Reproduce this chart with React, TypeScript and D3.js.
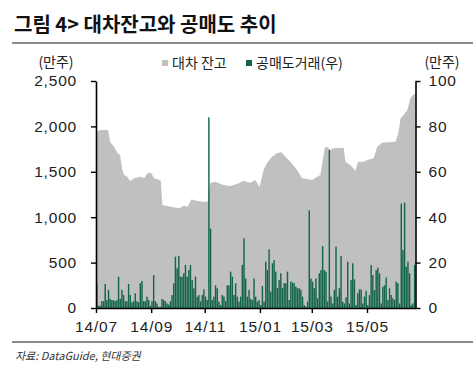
import React, { useEffect, useRef } from 'react';
import * as d3 from 'd3';

// 공매도거래 (만주, right axis) - one bar per slot, read left to right
const shortVals = [
  10.9, 1, 1, 3, 3, 10.6, 3.5, 8, 4, 3.5,
  3.5, 3, 3.5, 13.8, 4, 8, 5.7, 3, 3, 10.6,
  5.7, 2.5, 3, 6.5, 3, 2.5, 10.9, 11.9, 3, 3,
  5, 3.5, 1, 3, 14.5, 3, 2, 0.5, 0.5, 4,
  3.5, 3, 2, 1.5, 3, 5.7, 10.9, 22.6,
  17.5, 22.9, 13.8, 13.8, 15.3, 19, 13.8, 16.7, 19, 12.3,
  8.7, 13.8, 5, 5.7, 2.9, 5.7, 8.2, 5, 3.5, 84,
  35, 3.5, 5, 10, 8.7, 2.8, 1.3, 5.7, 5, 3,
  10, 10, 16, 13.8, 5.7, 10.9, 5, 2.8, 5, 19,
  30.7, 13, 5, 8, 4, 3.5, 13, 5, 2.8,
  3.5, 1.3, 9.7, 2.8, 20.4, 16.7, 25.8, 7.2, 19.7, 21.1,
  16, 8.7, 12.3, 15.3, 8.7, 10.9, 10.9, 16, 3.5, 11.6,
  11.2, 10.9, 9.4, 8.7, 8.7, 8, 5, 1.3, 0.6, 2.8,
  43, 13, 11.6, 8.7, 13, 4.3, 15.3, 16.7, 27.3, 16.7,
  16, 2.8, 69.6, 5, 2, 8, 27,
  5, 8.7, 22.9, 2.8, 2, 4.7, 20.4, 2, 12.3, 19.7,
  12.6, 1.3, 6.5, 8.2, 8.2, 2, 5, 7.6, 1.3, 5.7,
  19, 14.5, 7.9, 16.7, 17.8, 15.3, 2, 9.4, 10, 13.4,
  3.5, 8.7, 5.7, 4.3, 3.5, 11.6, 10.9, 2, 46, 25.6,
  46.4, 18.2, 20.4, 15.3, 1.3, 2, 19,
];

// 대차 잔고 (만주, left axis) - [slot position, value]
const loanPts: [number, number][] = [
  [0, 1942], [2.8, 1960], [7.2, 1960], [8.4, 1832], [10.8, 1776], [12.8, 1707],
  [14.4, 1685], [15.7, 1520], [16.8, 1465], [18.7, 1446], [20.4, 1399], [22.8, 1428],
  [26.8, 1446], [28.7, 1428], [31.1, 1490], [33.1, 1483], [34.7, 1428], [36.7, 1417],
  [38.7, 1402], [39.7, 1134], [44.7, 1116], [49.7, 1098], [52.7, 1127], [54.7, 1116],
  [57.1, 1197], [59.7, 1182], [63.7, 1171], [66.6, 1171], [68.3, 1380], [71.3, 1391],
  [76.2, 1355], [80.2, 1344], [84.3, 1366], [88.2, 1402], [92.2, 1380], [95.2, 1410],
  [97.8, 1336], [100.2, 1520], [102.2, 1594], [105.2, 1667], [108.2, 1704], [110.8, 1715],
  [113.2, 1667], [116.2, 1612], [120.2, 1520], [123.2, 1428], [126.2, 1420], [129.2, 1410],
  [132.2, 1446], [134.1, 1465], [135.1, 1575], [136.7, 1759], [138.1, 1777], [140.1, 1740],
  [142.1, 1759], [148.1, 1766], [149.1, 1612], [152.1, 1575], [155.1, 1512], [156.7, 1612],
  [160.1, 1612], [162.1, 1630], [166, 1648], [168.1, 1777], [171.1, 1821], [179, 1832],
  [180.7, 1924], [182.1, 2089], [184, 2125], [186.1, 2181], [188, 2309], [189.4, 2346],
  [191, 2360],
];

const leftTicks = [0, 500, 1000, 1500, 2000, 2500];
const rightTicks = [0, 20, 40, 60, 80, 100];
const xTickPos = [0, 33, 65, 98, 129, 162];
const xTickLabels = ['14/07', '14/09', '14/11', '15/01', '15/03', '15/05'];

const W = 473;
const H = 373;
const KR = '"Noto Sans CJK KR", "Noto Sans", sans-serif';
const NUM = '"Liberation Sans", Arial, sans-serif';

const App: React.FC = () => {
  const svgRef = useRef<SVGSVGElement>(null);

  useEffect(() => {
    if (!svgRef.current) return;
    const svg = d3.select(svgRef.current);
    svg.selectAll('*').remove();

    const left = 96, right = 415.5, top = 81, bottom = 308;

    const x = d3.scaleLinear().domain([0, shortVals.length]).range([left, right]);
    const yL = d3.scaleLinear().domain([0, 2500]).range([bottom, top]);
    const yR = d3.scaleLinear().domain([0, 100]).range([bottom, top]);

    svg.append('rect').attr('width', W).attr('height', H).attr('fill', '#fff');

    // title + rules
    svg.append('text')
      .attr('x', 14).attr('y', 32)
      .attr('font-family', KR).attr('font-weight', 700).attr('font-size', 20)
      .attr('fill', '#111')
      .text('그림 4> 대차잔고와 공매도 추이');
    svg.append('line').attr('x1', 12).attr('x2', W).attr('y1', 43).attr('y2', 43)
      .attr('stroke', '#8a8a8a').attr('stroke-width', 2);
    svg.append('line').attr('x1', 12).attr('x2', W).attr('y1', 342).attr('y2', 342)
      .attr('stroke', '#8a8a8a').attr('stroke-width', 2);

    // area
    const area = d3.area<[number, number]>()
      .x(d => x(d[0]))
      .y0(bottom)
      .y1(d => yL(d[1]));
    svg.append('path').datum(loanPts).attr('d', area).attr('fill', '#c0c0c0');

    // bars
    const slot = x(1) - x(0);
    svg.append('g').selectAll('rect').data(shortVals).join('rect')
      .attr('x', (_, i) => x(i) + 0.1)
      .attr('width', slot * 0.85)
      .attr('y', d => yR(d))
      .attr('height', d => bottom - yR(d))
      .attr('fill', '#126548');

    const styleAxis = (g: d3.Selection<SVGGElement, unknown, null, undefined>) => {
      g.select('.domain').attr('stroke', '#000').attr('stroke-width', 1.6);
      g.selectAll('.tick line').attr('stroke', '#000').attr('stroke-width', 1.4);
      g.selectAll('.tick text')
        .attr('font-family', NUM).attr('font-size', 15.5)
        .attr('letter-spacing', 0.8).attr('fill', '#222');
    };

    const gL = svg.append('g').attr('transform', `translate(${left},0)`)
      .call(d3.axisLeft(yL).tickValues(leftTicks).tickSize(5).tickSizeOuter(0)
        .tickPadding(14).tickFormat(d3.format(',')));
    styleAxis(gL);

    const gR = svg.append('g').attr('transform', `translate(${right},0)`)
      .call(d3.axisRight(yR).tickValues(rightTicks).tickSize(5).tickSizeOuter(0)
        .tickPadding(8));
    styleAxis(gR);

    const gX = svg.append('g').attr('transform', `translate(0,${bottom})`)
      .call(d3.axisBottom(x).tickValues(xTickPos).tickSize(5).tickSizeOuter(0)
        .tickPadding(8).tickFormat((_, i) => xTickLabels[i]));
    styleAxis(gX);

    // units
    svg.append('text').attr('x', 56).attr('y', 67).attr('text-anchor', 'middle')
      .attr('font-family', KR).attr('font-size', 14).attr('fill', '#222').text('(만주)');
    svg.append('text').attr('x', 442).attr('y', 67).attr('text-anchor', 'middle')
      .attr('font-family', KR).attr('font-size', 14).attr('fill', '#222').text('(만주)');

    // legend
    const legend = [
      { label: '대차 잔고', color: '#c0c0c0', x: 162 },
      { label: '공매도거래(우)', color: '#126548', x: 246 },
    ];
    legend.forEach(l => {
      svg.append('rect').attr('x', l.x).attr('y', 60).attr('width', 6).attr('height', 6)
        .attr('fill', l.color);
      svg.append('text').attr('x', l.x + 10).attr('y', 68)
        .attr('font-family', KR).attr('font-size', 14).attr('fill', '#222').text(l.label);
    });

    // source
    svg.append('text').attr('x', 15).attr('y', 360)
      .attr('font-family', KR).attr('font-size', 11).attr('font-style', 'italic')
      .attr('fill', '#333').text('자료: DataGuide, 현대증권');
  }, []);

  return (
    <svg
      ref={svgRef}
      width={W}
      height={H}
      style={{ position: 'absolute', left: 0, top: 0, display: 'block' }}
    />
  );
};

export default App;
